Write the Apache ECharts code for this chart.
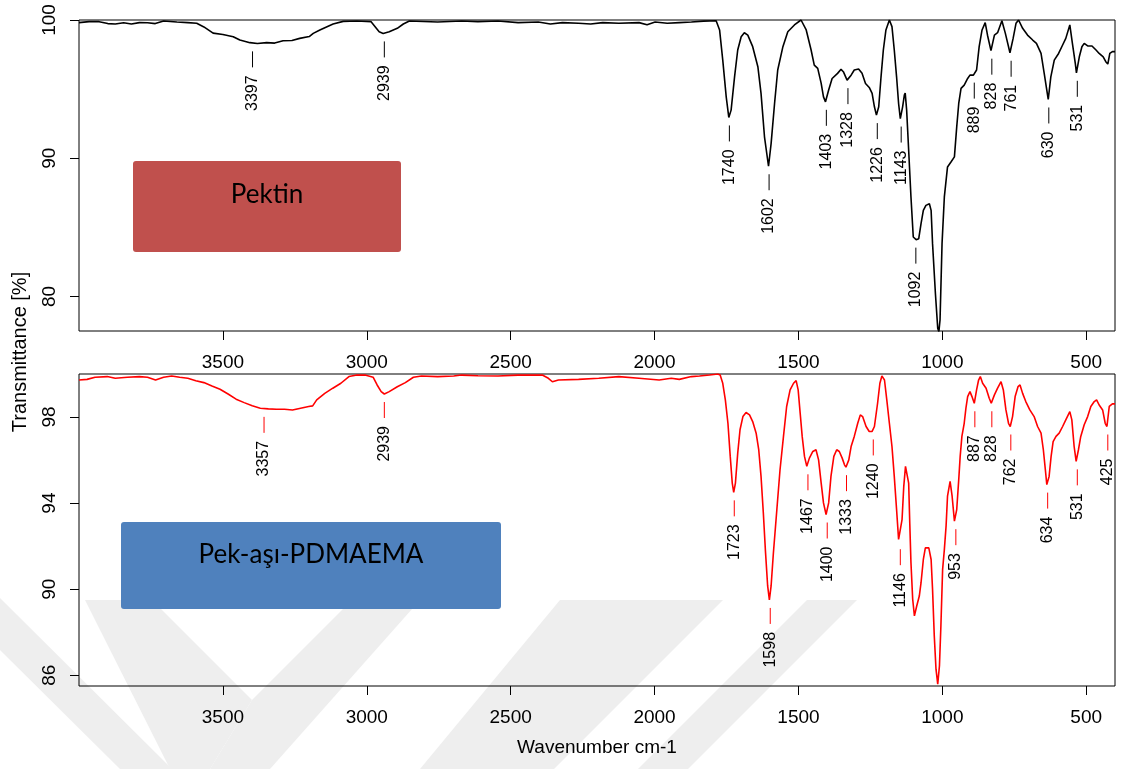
<!DOCTYPE html>
<html>
<head>
<meta charset="utf-8">
<title>FTIR Pektin / Pek-aşı-PDMAEMA</title>
<script src="https://cdn.jsdelivr.net/npm/echarts@6/dist/echarts.min.js"></script>
<style>
  html, body { margin: 0; padding: 0; background: #fff; }
  #chart { width: 1121px; height: 769px; }
</style>
</head>
<body>
<div id="chart"></div>
<script>
// Pektin spectrum (wavenumber cm-1 / transmittance %)
const pektinWn = [4000, 3965, 3930, 3900, 3874, 3845, 3818, 3790, 3762, 3735, 3706, 3660, 3622, 3591, 3566, 3534, 3500, 3464, 3441, 3406, 3380, 3348, 3320, 3291, 3260, 3233, 3200, 3186, 3163, 3140, 3117, 3082, 3034, 2985, 2971, 2957, 2943, 2922, 2894, 2873, 2852, 2754, 2670, 2614, 2544, 2474, 2404, 2362, 2320, 2264, 2222, 2180, 2124, 2054, 2026, 1998, 1956, 1914, 1872, 1830, 1786,
  1774, 1763, 1751, 1742, 1734, 1722, 1711, 1699, 1688, 1676, 1659, 1641, 1630, 1618, 1604, 1595, 1583, 1572, 1554, 1537, 1514, 1491, 1473, 1456, 1445, 1433, 1421, 1413, 1406, 1395, 1383, 1364, 1352, 1344, 1331, 1317, 1306, 1291, 1279, 1267, 1254, 1244, 1236, 1229, 1221, 1213, 1205, 1196, 1184, 1175, 1167, 1159, 1152, 1146, 1138, 1132, 1129, 1124, 1117, 1109, 1101, 1091, 1082, 1074, 1066, 1057, 1045, 1039, 1034, 1024, 1016, 1012, 1008, 1001, 993, 982, 970, 958, 950, 943, 935, 924, 912, 904, 892, 881, 872, 862, 851, 843, 831, 819, 808, 793, 781, 765, 754, 744, 735, 721, 704, 686, 673, 657, 646, 632, 623, 611, 596, 582, 571, 557, 548, 538, 534, 524, 515, 507, 495, 480, 466, 455, 441, 432, 425, 418, 409, 400];
const pektinT = [99.81, 99.88, 99.88, 99.74, 99.71, 99.80, 99.71, 99.81, 99.80, 99.74, 99.93, 99.85, 99.81, 99.76, 99.50, 99.05, 98.95, 98.79, 98.55, 98.36, 98.30, 98.36, 98.33, 98.50, 98.52, 98.67, 98.80, 99.03, 99.28, 99.50, 99.71, 99.90, 99.93, 99.88, 99.52, 99.15, 99.03, 99.15, 99.40, 99.71, 99.93, 99.86, 99.93, 99.88, 99.93, 99.81, 99.86, 99.71, 99.81, 99.76, 99.71, 99.81, 99.76, 99.81, 99.66, 99.86, 99.76, 99.81, 99.86, 99.92, 99.95,
  99.28, 97.10, 94.44, 92.95, 93.48, 95.89, 97.83, 98.79, 99.08, 98.91, 98.07, 96.62, 94.69, 91.55, 89.42, 91.06, 93.96, 96.38, 98.07, 99.15, 99.64, 100.0, 99.28, 97.83, 96.74, 96.50, 95.41, 94.44, 94.08, 94.93, 95.77, 96.14, 96.43, 96.26, 95.65, 96.01, 96.38, 96.45, 96.14, 95.41, 95.12, 94.69, 93.72, 93.12, 93.72, 95.89, 97.83, 99.28, 100.0, 99.52, 97.83, 95.89, 93.96, 92.87, 93.72, 94.57, 94.72, 93.48, 90.58, 87.20, 84.30, 84.11, 84.18, 85.27, 86.23, 86.59, 86.71, 86.23, 83.82, 80.19, 77.70, 77.45, 78.30, 83.82, 87.20, 89.37, 89.73, 90.10, 92.27, 93.96, 95.05, 95.29, 95.77, 96.01, 96.01, 96.38, 98.07, 99.28, 99.81, 98.90, 97.78, 98.91, 99.08, 99.95, 99.03, 97.63, 98.67, 99.76, 100.0, 99.40, 98.91, 98.55, 98.31, 97.58, 96.14, 94.25, 95.89, 97.10, 97.58, 98.19, 98.67, 99.64, 98.31, 96.86, 96.18, 97.34, 98.07, 98.31, 98.12, 98.12, 97.83, 97.58, 97.34, 96.98, 96.81, 97.58, 97.71, 97.71];

// Pek-aşı-PDMAEMA spectrum
const graftWn = [4000, 3972, 3944, 3902, 3874, 3832, 3790, 3762, 3734, 3706, 3678, 3650, 3622, 3594, 3566, 3538, 3510, 3482, 3454, 3426, 3398, 3370, 3342, 3314, 3286, 3258, 3230, 3202, 3188, 3174, 3146, 3118, 3090, 3062, 3034, 3006, 2978, 2964, 2950, 2939, 2922, 2894, 2866, 2838, 2810, 2754, 2698, 2670, 2614, 2544, 2474, 2390, 2369, 2355, 2334, 2264, 2194, 2124, 2054, 1984, 1942, 1914, 1872, 1844, 1809, 1780,
  1772, 1763, 1754, 1745, 1737, 1730, 1725, 1719, 1711, 1703, 1693, 1682, 1670, 1659, 1647, 1638, 1630, 1622, 1615, 1607, 1601, 1595, 1587, 1575, 1564, 1552, 1541, 1529, 1517, 1508, 1501, 1494, 1487, 1479, 1471, 1462, 1450, 1439, 1430, 1421, 1413, 1404, 1395, 1387, 1377, 1367, 1358, 1348, 1340, 1335, 1325, 1317, 1306, 1294, 1285, 1277, 1265, 1254, 1244, 1236, 1225, 1217, 1210, 1201, 1193, 1184, 1175, 1167, 1159, 1152, 1147, 1140, 1134, 1128, 1124, 1117, 1113, 1109, 1103, 1097, 1089, 1080, 1074, 1066, 1059, 1047, 1039, 1034, 1028, 1022, 1016, 1010, 1005, 999, 993, 987, 982, 973, 966, 958, 950, 943, 938, 932, 924, 918, 912, 904, 897, 889, 881, 874, 868, 860, 848, 837, 830, 819, 808, 796, 788, 779, 770, 764, 756, 747, 737, 730, 721, 710, 696, 681, 669, 657, 649, 642, 637, 629, 622, 615, 605, 594, 582, 571, 557, 550, 542, 535, 527, 519, 507, 495, 484, 472, 464, 455, 443, 434, 428, 420, 409, 400];
const graftT = [99.72, 99.75, 99.85, 99.88, 99.80, 99.85, 99.88, 99.85, 99.72, 99.85, 99.91, 99.85, 99.80, 99.69, 99.60, 99.44, 99.29, 99.07, 98.83, 98.67, 98.52, 98.41, 98.38, 98.36, 98.36, 98.33, 98.41, 98.49, 98.52, 98.80, 99.10, 99.34, 99.57, 99.88, 99.95, 99.95, 99.85, 99.49, 99.18, 99.07, 99.18, 99.41, 99.60, 99.85, 99.91, 99.88, 99.91, 99.95, 99.92, 99.91, 99.95, 99.95, 99.80, 99.64, 99.72, 99.75, 99.80, 99.88, 99.80, 99.72, 99.80, 99.75, 99.88, 99.91, 99.95, 100.0,
  99.95, 99.57, 98.80, 97.71, 96.17, 94.93, 94.50, 94.93, 96.32, 97.41, 98.02, 98.21, 98.10, 97.79, 97.25, 96.48, 95.24, 93.54, 91.84, 90.15, 89.50, 90.15, 91.69, 93.70, 95.55, 97.10, 98.49, 99.26, 99.57, 99.69, 99.26, 98.18, 97.10, 96.17, 95.71, 96.09, 96.40, 96.48, 96.01, 94.93, 94.01, 93.47, 94.01, 95.24, 96.17, 96.48, 96.40, 96.09, 95.78, 95.67, 96.01, 96.63, 97.10, 97.71, 98.10, 98.02, 97.56, 97.33, 97.33, 97.56, 98.64, 99.57, 99.91, 99.72, 98.80, 97.71, 96.63, 95.24, 93.70, 92.31, 92.23, 93.23, 94.78, 95.71, 95.78, 94.93, 93.00, 91.23, 89.53, 88.76, 89.22, 89.68, 90.30, 91.38, 91.92, 91.92, 91.38, 89.99, 87.83, 86.28, 85.59, 86.44, 88.29, 90.92, 91.84, 92.93, 94.32, 95.01, 94.32, 93.16, 93.70, 95.09, 96.17, 97.10, 97.71, 98.41, 98.95, 99.18, 98.95, 98.64, 99.26, 99.72, 99.88, 99.57, 99.34, 98.87, 98.64, 99.03, 99.34, 99.64, 99.26, 98.33, 97.71, 97.56, 98.02, 98.95, 99.41, 99.49, 99.10, 98.72, 98.33, 98.02, 97.56, 97.25, 96.48, 95.55, 94.86, 95.24, 96.17, 96.86, 97.10, 97.25, 97.56, 97.87, 98.25, 97.87, 96.63, 95.94, 96.48, 97.10, 97.64, 98.02, 98.49, 98.72, 98.80, 98.56, 98.33, 97.71, 97.56, 98.49, 98.61, 98.61];

// band labels: wavenumber and transmittance at the band
const pektinPeakWn = [3397, 2939, 1740, 1602, 1403, 1328, 1226, 1143, 1092, 889, 828, 761, 630, 531];
const pektinPeakT = [98.31, 99.03, 92.95, 89.42, 94.08, 95.65, 93.12, 92.87, 84.11, 96.05, 97.78, 97.63, 94.25, 96.18];
const graftPeakWn = [3357, 2939, 1723, 1598, 1467, 1400, 1333, 1240, 1146, 953, 887, 828, 762, 634, 531, 425];
const graftPeakT = [98.38, 99.07, 94.50, 89.50, 95.71, 93.47, 95.67, 97.33, 92.23, 93.16, 98.64, 98.64, 97.56, 94.86, 95.94, 97.56];

const xTicks = [3500, 3000, 2500, 2000, 1500, 1000, 500];
const pektinYTicks = [80, 90, 100];
const graftYTicks = [86, 90, 94, 98];

const FONT = '"Liberation Sans", Arial, Helvetica, sans-serif';
const BOX_FONT = '26px Lato, "Open Sans", sans-serif';
const chart = echarts.init(document.getElementById('chart'));

const zip = (a, b) => a.map((v, i) => [v, b[i]]);

// short dash under the band, then the number rotated below it
const peakLabel = (dashColor) => (params, api) => {
  const p = api.coord([api.value(0), api.value(1)]);
  return {
    type: 'group',
    children: [
      {
        type: 'line',
        shape: { x1: p[0], y1: p[1] + 8, x2: p[0], y2: p[1] + 24 },
        style: { stroke: dashColor, lineWidth: 1 }
      },
      {
        type: 'text',
        x: p[0],
        y: p[1] + 32,
        rotation: Math.PI / 2,
        style: {
          text: String(api.value(0)),
          fill: '#000',
          font: '16px ' + FONT,
          align: 'right',
          verticalAlign: 'middle'
        }
      }
    ]
  };
};

const xAxisFor = (gridIndex) => ({
  type: 'value',
  gridIndex: gridIndex,
  min: 400,
  max: 4000,
  inverse: true,
  axisLine: { show: false },
  axisTick: { show: true, length: 9, customValues: xTicks, lineStyle: { color: '#000' } },
  axisLabel: {
    customValues: xTicks,
    formatter: (v) => String(v),
    margin: 22,
    fontSize: 19,
    color: '#000',
    fontFamily: FONT
  },
  splitLine: { show: false }
});

const yAxisFor = (gridIndex, min, ticks) => ({
  type: 'value',
  gridIndex: gridIndex,
  min: min,
  max: 100,
  axisLine: { show: false },
  axisTick: { show: true, length: 9, customValues: ticks, lineStyle: { color: '#000' } },
  axisLabel: {
    customValues: ticks,
    formatter: (v) => String(v),
    rotate: 90,
    margin: 20,
    fontSize: 19,
    color: '#000',
    fontFamily: FONT
  },
  splitLine: { show: false }
});

// faint watermark chevrons in the lower left / lower middle (behind the plot)
const wmStyle = { fill: '#eeeeee' };
const watermark = [
  [[0, 598], [0, 650], [120, 769], [172, 769]],
  [[85, 600], [152, 600], [252, 700], [210, 769], [170, 769]],
  [[252, 700], [352, 600], [420, 600], [270, 769], [210, 769]],
  [[560, 600], [723, 600], [554, 769], [420, 769]],
  [[807, 600], [857, 600], [688, 769], [638, 769]]
].map((pts) => ({ type: 'polygon', shape: { points: pts }, style: wmStyle, z: -10, silent: true }));

const option = {
  backgroundColor: '#fff',
  animation: false,
  grid: [
    { left: 79, top: 20, right: 6, height: 311, show: true, borderColor: '#000', borderWidth: 1, backgroundColor: 'transparent' },
    { left: 79, top: 374, right: 6, height: 312, show: true, borderColor: '#000', borderWidth: 1, backgroundColor: 'transparent' }
  ],
  xAxis: [xAxisFor(0), xAxisFor(1)],
  yAxis: [yAxisFor(0, 77.5, pektinYTicks), yAxisFor(1, 85.5, graftYTicks)],
  graphic: watermark.concat([
    // label boxes
    { type: 'rect', shape: { x: 133, y: 161, width: 268, height: 91, r: 3 }, style: { fill: '#C0504D' }, z: 1 },
    { type: 'text', x: 267, y: 195, style: { text: 'Pektin', font: BOX_FONT, fill: '#000', align: 'center', verticalAlign: 'middle' }, z: 2 },
    { type: 'rect', shape: { x: 121, y: 522, width: 380, height: 87, r: 3 }, style: { fill: '#4F81BD' }, z: 1 },
    { type: 'text', x: 311, y: 555, style: { text: 'Pek-aşı-PDMAEMA', font: BOX_FONT, fill: '#000', align: 'center', verticalAlign: 'middle' }, z: 2 },
    // axis titles
    { type: 'text', x: 20, y: 352, rotation: Math.PI / 2, style: { text: 'Transmittance [%]', font: '20px ' + FONT, fill: '#000', align: 'center', verticalAlign: 'middle' } },
    { type: 'text', x: 597, y: 748, style: { text: 'Wavenumber cm-1', font: '19px ' + FONT, fill: '#000', align: 'center', verticalAlign: 'middle' } }
  ]),
  series: [
    {
      name: 'Pektin',
      type: 'line',
      xAxisIndex: 0,
      yAxisIndex: 0,
      data: zip(pektinWn, pektinT),
      showSymbol: false,
      clip: true,
      lineStyle: { color: '#000', width: 1.6 },
      itemStyle: { color: '#000' }
    },
    {
      name: 'Pek-aşı-PDMAEMA',
      type: 'line',
      xAxisIndex: 1,
      yAxisIndex: 1,
      data: zip(graftWn, graftT),
      showSymbol: false,
      clip: true,
      lineStyle: { color: '#ff0000', width: 1.6 },
      itemStyle: { color: '#ff0000' }
    },
    {
      type: 'custom',
      xAxisIndex: 0,
      yAxisIndex: 0,
      data: zip(pektinPeakWn, pektinPeakT),
      renderItem: peakLabel('#000'),
      silent: true
    },
    {
      type: 'custom',
      xAxisIndex: 1,
      yAxisIndex: 1,
      data: zip(graftPeakWn, graftPeakT),
      renderItem: peakLabel('#ff0000'),
      silent: true
    }
  ]
};

chart.setOption(option);
</script>
</body>
</html>
